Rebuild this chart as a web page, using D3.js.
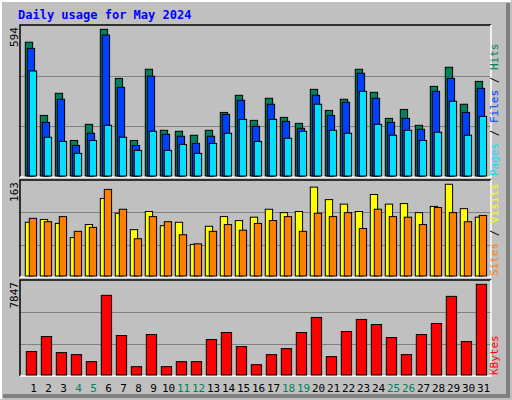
<!DOCTYPE html><html><head><meta charset="utf-8">
<script src="https://cdn.jsdelivr.net/npm/d3@7"></script>
<style>body{margin:0;background:#fff}text{font-family:"DejaVu Sans Mono",monospace}</style></head><body>
<script>
const days=d3.range(1,32);
const weekends=[4,5,11,12,18,19,25,26];
const hits=[542,247,336,146,211,594,396,146,433,187,183,167,187,259,328,227,316,239,215,352,267,312,433,340,235,271,207,364,441,292,384];
const files=[517,219,312,126,175,571,360,126,405,171,163,134,163,251,308,203,292,223,195,328,247,300,417,316,219,235,191,344,396,259,356];
const pages=[426,159,142,94,146,207,159,106,183,106,130,94,134,175,231,142,231,155,183,292,187,175,344,211,167,187,146,179,304,167,243];
const sites=[96,101,94,69,92,138,112,83,115,90,96,57,89,106,99,105,119,113,115,158,136,128,115,145,128,129,113,124,163,120,105];
const visits=[103,97,106,80,87,154,119,67,106,97,74,58,80,92,82,94,99,106,80,112,106,113,85,119,106,105,92,122,113,97,108];
const kbytes=[2069,3363,1983,1811,1207,6898,3449,776,3535,776,1207,1207,3104,3707,2500,948,1811,2328,3707,5001,1638,3794,4828,4397,3276,1811,3535,4483,6811,2931,7847];
const svg=d3.select("body").append("svg").attr("width",512).attr("height",400);
svg.append("rect").attr("width",512).attr("height",400).attr("fill","#c0c0c0");
svg.append("path").attr("d","M1,399V1H511").attr("stroke","#fff").attr("stroke-width",2).attr("fill","none");
svg.append("path").attr("d","M3,396H508V3").attr("stroke","#808080").attr("stroke-width",4).attr("fill","none");
svg.append("text").attr("x",18).attr("y",19).attr("fill","#0000ff").attr("font-weight","bold").attr("font-size",12).text("Daily usage for May 2024");
const L=20,R=491;
const x=d3.scaleLinear().domain([0,31]).range([25.3,490.3]);
const panels=[{t:25,b:177,max:594,series:[[hits,"#00805c",0,7.3],[files,"#0040ff",2,7.3],[pages,"#00e0ff",4,7.3]],lbl:[["Pages","#00e0ff"],["Files","#0040ff"],["Hits","#00805c"]]},
{t:180,b:277,max:163,series:[[sites,"#ffff00",0,7.3],[visits,"#ff8000",4,7.3]],lbl:[["Sites","#ff8000"],["Visits","#ffff00"]]},
{t:280,b:376,max:7847,series:[[kbytes,"#ff0000",1,10.3]],lbl:[["KBytes","#ff0000"]]}];
panels.forEach(p=>{
  const y=d3.scaleLinear().domain([0,p.max]).range([p.b-0.3,p.t+4.3]);
  const g=svg.append("g");
  g.append("rect").attr("x",L).attr("y",p.t).attr("width",R-L).attr("height",p.b-p.t).attr("fill","#c0c0c0");
  [1,2].forEach(k=>{const yy=Math.round(p.b-(p.b-p.t)*k/3)+0.5;g.append("line").attr("x1",L).attr("x2",R).attr("y1",yy).attr("y2",yy).attr("stroke","#808080");});
  g.append("path").attr("d",`M${L},${p.b}V${p.t}H${R}`).attr("stroke","#000").attr("stroke-width",1.5).attr("fill","none");
  g.append("path").attr("d",`M${R},${p.t}V${p.b}H${L}`).attr("stroke","#fff").attr("stroke-width",1.5).attr("fill","none");
  p.series.forEach(([vals,col,off,w])=>{
    g.selectAll(null).data(vals).join("rect").attr("x",(d,i)=>x(i)+off).attr("y",d=>y(d)).attr("width",w).attr("height",d=>p.b-y(d)-1).attr("fill",col).attr("stroke","#000").attr("stroke-width",1);
  });
  g.append("text").attr("transform",`translate(18,${p.t+2}) rotate(-90)`).attr("text-anchor","end").attr("font-size",11).attr("fill","#000").text(p.max);
  const t=g.append("text").attr("transform",`translate(498,${p.b-1}) rotate(-90)`).attr("font-size",11);
  p.lbl.forEach((l,i)=>{if(i>0)t.append("tspan").attr("fill","#000").text(" / ");t.append("tspan").attr("fill",l[1]).text(l[0]);});
});
svg.selectAll(".d").data(days).join("text").attr("x",(d,i)=>x(i)+8.3).attr("y",392).attr("text-anchor","middle").attr("font-size",11)
 .attr("fill",d=>weekends.includes(d)?"#00805c":"#000").text(d=>d);
</script></body></html>
